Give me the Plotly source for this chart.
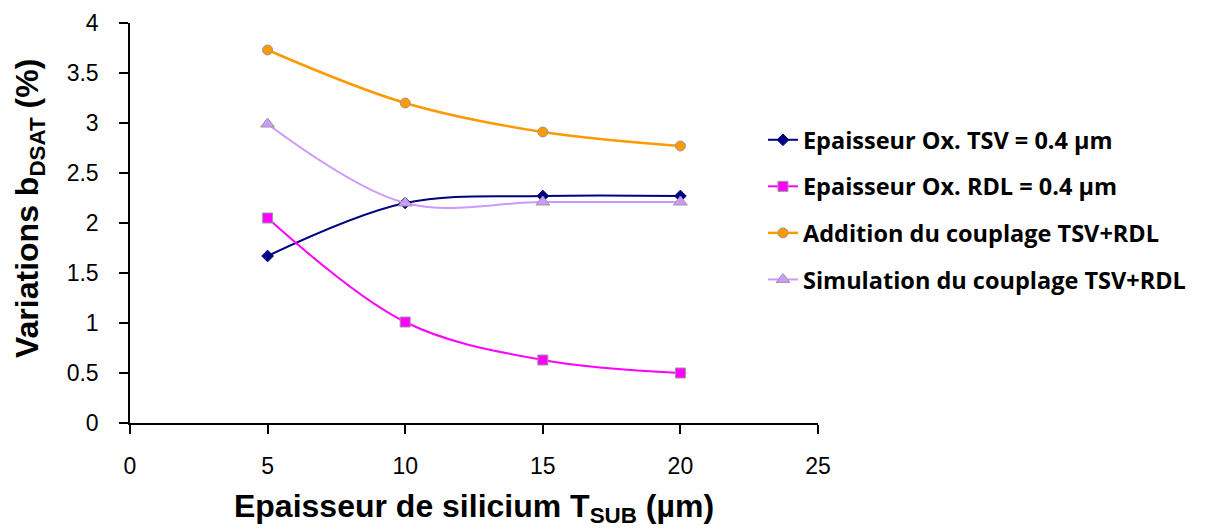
import plotly.graph_objects as go

x_vals = [5, 10, 15, 20]
tsv = [1.67, 2.2, 2.27, 2.27]
rdl = [2.05, 1.01, 0.63, 0.5]
addition = [3.73, 3.2, 2.91, 2.77]
simulation = [2.99, 2.2, 2.21, 2.21]

names = [
    "Epaisseur Ox. TSV = 0.4 µm",
    "Epaisseur Ox. RDL = 0.4 µm",
    "Addition du couplage TSV+RDL",
    "Simulation du couplage TSV+RDL",
]

series = [
    (tsv, "#000080", "diamond", 9, 2, "#000080"),
    (rdl, "#FF00FF", "square", 10, 2, "#999999"),
    (addition, "#FF9900", "circle", 10, 2.5, "#999999"),
    (simulation, "#CC99FF", "triangle-up", 12, 2, "#999999"),
]

fig = go.Figure()
for i, (vals, col, sym, size, lw, border) in enumerate(series):
    fig.add_trace(go.Scatter(
        x=x_vals, y=vals, name=names[i], mode="lines+markers",
        line=dict(color=col, width=lw, shape="spline", smoothing=1),
        marker=dict(symbol=sym, size=size, color=col, line=dict(color=border, width=1)),
        legendgroup=f"g{i}",
    ))

FONT = "Arial, Liberation Sans, sans-serif"
fig.update_layout(
    width=1211, height=532,
    paper_bgcolor="white", plot_bgcolor="white",
    margin=dict(l=122, r=401, t=15, b=117),
    font=dict(family=FONT, color="black"),
    showlegend=True,
    legend=dict(
        x=0.920, xanchor="left", y=0.5325, yanchor="middle",
        font=dict(size=23.5, family="Open Sans, Arial, sans-serif", color="black", weight="bold"),
        tracegroupgap=13, bgcolor="rgba(0,0,0,0)",
    ),
    annotations=[dict(
        text="<b>Variations b<sub>DSAT</sub> (%)</b>", textangle=-90,
        xref="paper", yref="paper", x=-0.1468, y=0.535,
        xanchor="center", yanchor="middle", showarrow=False,
        font=dict(size=32, family=FONT, color="black"),
    )],
)

fig.update_xaxes(
    range=[0, 25], dtick=5, tick0=0, showgrid=False, zeroline=False,
    showline=True, linecolor="black", linewidth=1.5,
    ticks="outside", ticklen=9, tickcolor="black", tickwidth=1.5,
    tickfont=dict(size=23), ticklabelstandoff=13, automargin=False,
    title=dict(text="<b>Epaisseur de silicium T<sub>SUB</sub> (µm)</b>", font=dict(size=32), standoff=16),
)
fig.update_yaxes(
    range=[0, 4], dtick=0.5, tick0=0, showgrid=False, zeroline=False,
    showline=True, linecolor="black", linewidth=1.5,
    ticks="outside", ticklen=9, tickcolor="black", tickwidth=1.5,
    tickfont=dict(size=23), ticklabelstandoff=16, automargin=False,
)

fig.write_html("out.html")
